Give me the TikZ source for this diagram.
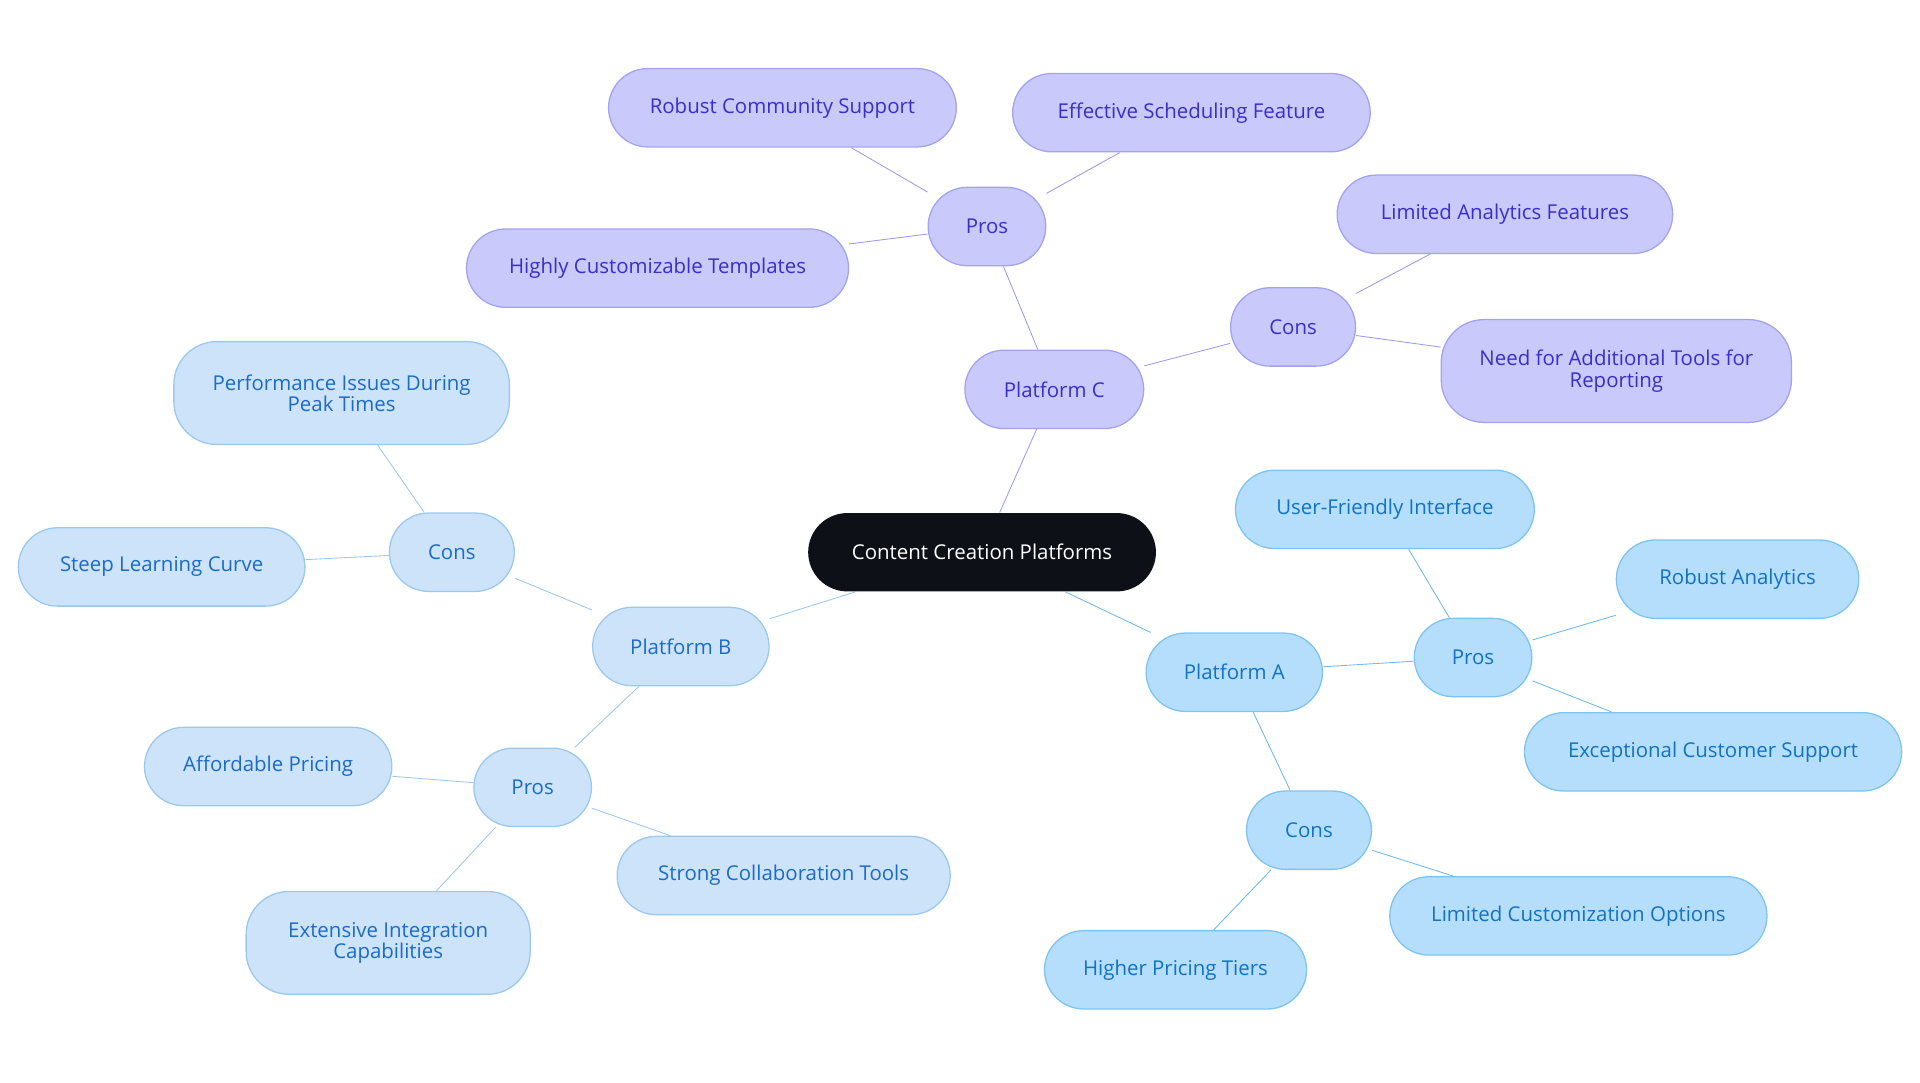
\documentclass[tikz,border=0pt]{standalone}
\usepackage{fontspec}
\setmainfont{Open Sans}
\usetikzlibrary{backgrounds}
\definecolor{pf}{HTML}{C9C9FB}\definecolor{pd}{HTML}{A3A3F0}\definecolor{pt}{HTML}{3A2FC8}\definecolor{pe}{HTML}{9B9BEF}
\definecolor{bf}{HTML}{CDE3FA}\definecolor{bd}{HTML}{9CC8F0}\definecolor{bt}{HTML}{1B6BC7}\definecolor{be}{HTML}{9EC7EE}
\definecolor{af}{HTML}{B5DEFD}\definecolor{ad}{HTML}{7EC4F2}\definecolor{at}{HTML}{1272C4}\definecolor{ae}{HTML}{6FB9EC}
\definecolor{rootc}{HTML}{0D1117}
\begin{document}
\begin{tikzpicture}[x={(0.02cm,0)},y={(0,-0.02cm)},
 n/.style={rounded corners=0.64cm,minimum height=1.28cm,align=center,font=\fontsize{9.5}{10}\selectfont,line width=0.6pt,inner sep=2pt},
 P/.style={n,fill=pf,draw=pd,text=pt},
 B/.style={n,fill=bf,draw=bd,text=bt},
 A/.style={n,fill=af,draw=ad,text=at},
 tall/.style={minimum height=1.68cm,rounded corners=0.7cm},
 w/.style={minimum width=#1*0.02cm}]
\useasboundingbox (0,0) rectangle (1568,884);
\node[n,fill=rootc,text=white,w=284] (root) at (802,451) {Content Creation Platforms};
\node[P,w=146] (pc) at (861,318) {Platform C};
\node[P,w=96] (pcp) at (806,185) {Pros};
\node[P,w=284] (c1) at (639,88) {Robust Community Support};
\node[P,w=292] (c2) at (973,92) {Effective Scheduling Feature};
\node[P,w=312] (c3) at (537,219) {Highly Customizable Templates};
\node[P,w=102] (pcc) at (1056,267) {Cons};
\node[P,w=274] (c4) at (1229,175) {Limited Analytics Features};
\node[P,tall,w=286] (c5) at (1320,303) {Need for Additional Tools for\\Reporting};
\node[B,w=144] (pb) at (556,528) {Platform B};
\node[B,w=102] (pbc) at (369,451) {Cons};
\node[B,tall,w=274] (b1) at (279,321) {Performance Issues During\\Peak Times};
\node[B,w=234] (b2) at (132,463) {Steep Learning Curve};
\node[B,w=96] (pbp) at (435,643) {Pros};
\node[B,w=202] (b3) at (219,626) {Affordable Pricing};
\node[B,w=272] (b4) at (640,715) {Strong Collaboration Tools};
\node[B,tall,w=232] (b5) at (317,770) {Extensive Integration\\Capabilities};
\node[A,w=144] (pa) at (1008,549) {Platform A};
\node[A,w=96] (pap) at (1203,537) {Pros};
\node[A,w=244] (a1) at (1131,416) {User-Friendly Interface};
\node[A,w=198] (a2) at (1419,473) {Robust Analytics};
\node[A,w=308] (a3) at (1399,614) {Exceptional Customer Support};
\node[A,w=102] (pac) at (1069,678) {Cons};
\node[A,w=308] (a4) at (1289,748) {Limited Customization Options};
\node[A,w=214] (a5) at (960,792) {Higher Pricing Tiers};
\begin{scope}[on background layer,line width=1.2pt]
\draw[pe] (root)--(pc) (pc)--(pcp) (pcp)--(c1) (pcp)--(c2) (pcp)--(c3) (pc)--(pcc) (pcc)--(c4) (pcc)--(c5);
\draw[be] (root)--(pb) (pb)--(pbc) (pbc)--(b1) (pbc)--(b2) (pb)--(pbp) (pbp)--(b3) (pbp)--(b4) (pbp)--(b5);
\draw[ae] (root)--(pa) (pa)--(pap) (pap)--(a1) (pap)--(a2) (pap)--(a3) (pa)--(pac) (pac)--(a4) (pac)--(a5);
\end{scope}
\end{tikzpicture}
\end{document}
